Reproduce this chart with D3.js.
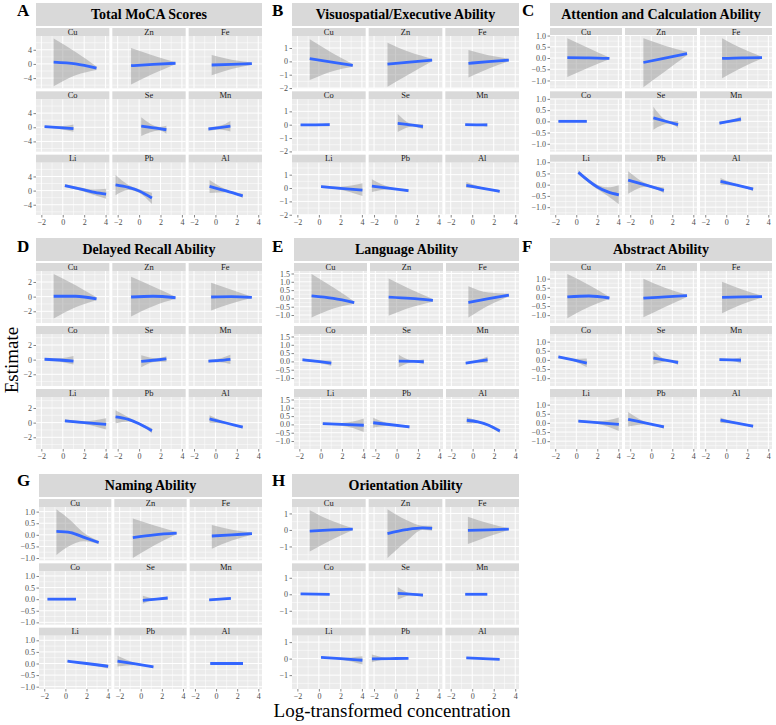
<!DOCTYPE html>
<html>
<head>
<meta charset="utf-8">
<script src="https://cdn.jsdelivr.net/npm/d3@7"></script>
<style>
body { margin: 0; background: #fff; }
svg { display: block; font-family: "Liberation Serif", "Times New Roman", serif; }
</style>
</head>
<body>
<script>
// facet order inside each panel
var elements = ["Cu", "Zn", "Fe", "Co", "Se", "Mn", "Li", "Pb", "Al"];
var outcomes = ["Total MoCA Scores", "Visuospatial/Executive Ability", "Attention and Calculation Ability",
  "Delayed Recall Ability", "Language Ability", "Abstract Ability", "Naming Ability", "Orientation Ability"];
var letters = ["A", "B", "C", "D", "E", "F", "G", "H"];

var xTicks = [-2, 0, 2, 4];
var xLimits = [-2.5, 4.35];
var yTicks = [[-4, 0, 4], [-2, -1, 0, 1], [-1, -0.5, 0, 0.5, 1], [-2, 0, 2],
  [-1, -0.5, 0, 0.5, 1, 1.5], [-1, -0.5, 0, 0.5, 1], [-1, -0.5, 0, 0.5, 1], [-1, 0, 1]];
var yLimits = [[-6.9, 7.9], [-2.02, 1.9], [-1.35, 0.98], [-3.6, 3.5],
  [-1.48, 1.65], [-1.43, 1.42], [-1.1, 1.2], [-1.84, 1.39]];

// smooth fit per element, points are [x, estimate, lower, upper]
var mocaFit = [
  [[-0.85, 0.5, -6.3, 7.2], [1.2, 0.0, -3.2, 3.4], [3.15, -1.2, -1.7, -0.7]],
  [[-0.75, -0.5, -5.8, 4.5], [1.3, -0.1, -2.8, 2.4], [3.4, 0.2, -0.1, 0.5]],
  [[-0.35, -0.3, -3.2, 2.5], [1.5, -0.1, -1.4, 1.2], [3.4, 0.1, -0.2, 0.4]],
  [[-1.7, 0.2, 0.0, 0.4], [-0.3, -0.1, -0.5, 0.3], [1.0, -0.4, -1.3, 0.8]],
  [[0.2, 0.3, -2.5, 2.8], [1.9, -0.4, -0.9, 0.1], [2.55, -0.7, -1.8, 0.4]],
  [[-0.65, -0.5, -1.0, 0.0], [0.4, -0.1, -0.6, 0.4], [1.4, 0.3, -1.2, 1.8]],
  [[0.2, 1.4, 1.0, 1.8], [2.0, 0.2, -0.3, 0.7], [3.0, -0.5, -1.3, 0.3], [4.05, -1.0, -2.3, 0.5]],
  [[-2.2, 1.6, -1.3, 4.4], [-1.0, 0.9, 0.2, 1.6], [0.0, -0.1, -0.6, 0.4], [1.2, -2.1, -3.8, -0.6]],
  [[-0.55, 1.2, -0.7, 3.0], [1.0, -0.1, -0.5, 0.3], [2.55, -1.5, -2.1, -0.9]]
];
var visuoFit = [
  [[-0.85, 0.2, -1.4, 1.65], [1.2, -0.05, -0.75, 0.65], [3.15, -0.3, -0.4, -0.2]],
  [[-0.75, -0.2, -1.9, 1.4], [1.3, -0.05, -0.95, 0.7], [3.4, 0.1, 0.0, 0.2]],
  [[-0.35, -0.15, -1.2, 0.85], [1.5, -0.02, -0.55, 0.45], [3.4, 0.1, 0.0, 0.2]],
  [[-1.7, -0.02, -0.1, 0.06], [-0.3, -0.01, -0.07, 0.05], [1.0, 0.0, -0.12, 0.12]],
  [[0.2, 0.1, -0.55, 0.8], [1.6, -0.04, -0.14, 0.06], [2.55, -0.15, -0.35, 0.05]],
  [[-0.65, 0.0, -0.08, 0.08], [0.4, -0.01, -0.06, 0.05], [1.4, -0.02, -0.15, 0.12]],
  [[0.2, 0.1, 0.0, 0.2], [2.0, -0.02, -0.13, 0.1], [4.05, -0.15, -0.6, 0.35]],
  [[-2.2, 0.15, -0.3, 0.65], [-0.5, -0.02, -0.1, 0.06], [1.2, -0.2, -0.32, -0.08]],
  [[-0.55, 0.2, 0.0, 0.45], [1.0, -0.02, -0.08, 0.04], [2.55, -0.25, -0.35, -0.15]]
];
var attnFit = [
  [[-0.85, 0.02, -0.85, 0.88], [1.2, 0.01, -0.42, 0.44], [3.15, -0.02, -0.06, 0.02]],
  [[-0.75, -0.2, -1.3, 0.88], [1.3, 0.0, -0.6, 0.55], [3.4, 0.2, 0.12, 0.28]],
  [[-0.4, -0.02, -0.9, 0.88], [1.5, 0.01, -0.42, 0.42], [3.4, 0.02, -0.02, 0.06]],
  [[-1.7, 0.0, -0.03, 0.03], [1.0, 0.0, -0.04, 0.04]],
  [[0.2, 0.15, -0.37, 0.65], [1.7, -0.04, -0.1, 0.02], [2.55, -0.15, -0.3, 0.02]],
  [[-0.65, -0.08, -0.15, 0.0], [0.4, 0.01, -0.04, 0.06], [1.4, 0.1, -0.02, 0.22]],
  [[0.2, 0.55, 0.45, 0.65], [2.0, -0.1, -0.2, 0.0], [3.0, -0.32, -0.5, -0.12], [4.05, -0.45, -0.87, -0.02]],
  [[-2.2, 0.2, -0.4, 0.6], [-0.5, -0.02, -0.09, 0.05], [1.2, -0.25, -0.37, -0.13]],
  [[-0.55, 0.15, 0.0, 0.3], [1.0, -0.02, -0.06, 0.02], [2.55, -0.2, -0.28, -0.12]]
];
var recallFit = [
  [[-0.85, 0.05, -3.0, 3.1], [1.2, 0.05, -1.45, 1.55], [3.15, -0.3, -0.5, -0.1]],
  [[-0.75, -0.05, -2.7, 2.7], [1.3, 0.05, -1.3, 1.4], [3.4, -0.15, -0.3, 0.0]],
  [[-0.4, -0.05, -1.9, 1.9], [1.5, 0.0, -0.95, 0.95], [3.4, -0.1, -0.2, 0.0]],
  [[-1.7, 0.05, -0.1, 0.2], [-0.3, -0.05, -0.3, 0.2], [1.0, -0.2, -0.65, 0.5]],
  [[0.2, -0.25, -1.05, 0.6], [1.6, -0.05, -0.3, 0.2], [2.55, 0.1, -0.3, 0.45]],
  [[-0.65, -0.2, -0.4, 0.0], [0.4, -0.1, -0.35, 0.15], [1.4, 0.05, -0.6, 0.65]],
  [[0.2, 0.25, 0.05, 0.45], [2.0, 0.0, -0.2, 0.2], [4.05, -0.25, -0.95, 0.6]],
  [[-2.2, 0.8, -0.1, 1.7], [-1.0, 0.45, 0.15, 0.75], [0.0, -0.15, -0.3, 0.0], [1.2, -1.1, -1.45, -0.75]],
  [[-0.55, 0.5, 0.0, 1.0], [1.0, -0.05, -0.15, 0.05], [2.55, -0.6, -0.8, -0.4]]
];
var langFit = [
  [[-0.85, 0.15, -1.15, 1.47], [1.2, 0.0, -0.6, 0.65], [3.15, -0.25, -0.32, -0.18]],
  [[-0.75, 0.08, -1.05, 1.2], [1.3, 0.0, -0.55, 0.55], [3.4, -0.12, -0.2, -0.04]],
  [[-0.4, -0.25, -1.15, 0.73], [1.5, -0.02, -0.42, 0.35], [3.4, 0.2, 0.12, 0.28]],
  [[-1.7, 0.1, 0.03, 0.17], [-0.3, 0.0, -0.07, 0.07], [1.0, -0.1, -0.27, 0.05]],
  [[0.2, 0.02, -0.35, 0.4], [1.6, 0.0, -0.05, 0.05], [2.55, -0.02, -0.17, 0.13]],
  [[-0.65, -0.1, -0.17, -0.03], [0.4, 0.0, -0.07, 0.07], [1.4, 0.1, -0.1, 0.3]],
  [[0.2, 0.05, -0.02, 0.12], [2.0, 0.0, -0.08, 0.08], [4.05, -0.05, -0.45, 0.35]],
  [[-2.2, 0.1, -0.2, 0.4], [-0.5, -0.02, -0.07, 0.03], [1.2, -0.15, -0.25, -0.05]],
  [[-0.55, 0.25, 0.05, 0.45], [0.5, 0.15, 0.08, 0.22], [1.5, -0.05, -0.12, 0.02], [2.55, -0.4, -0.52, -0.28]]
];
var abstractFit = [
  [[-0.85, 0.0, -1.17, 1.25], [1.2, 0.05, -0.55, 0.65], [3.15, -0.06, -0.12, 0.0]],
  [[-0.75, -0.07, -1.12, 1.0], [1.3, 0.0, -0.55, 0.5], [3.4, 0.07, 0.0, 0.12]],
  [[-0.4, -0.03, -0.9, 0.83], [1.5, 0.0, -0.4, 0.4], [3.4, 0.02, -0.03, 0.07]],
  [[-1.7, 0.17, 0.1, 0.24], [-0.3, 0.0, -0.06, 0.06], [1.0, -0.17, -0.4, 0.08]],
  [[0.2, 0.1, -0.25, 0.5], [1.6, -0.04, -0.09, 0.01], [2.55, -0.15, -0.28, 0.0]],
  [[-0.65, 0.02, -0.05, 0.09], [0.4, 0.0, -0.05, 0.05], [1.4, -0.02, -0.2, 0.15]],
  [[0.2, 0.1, 0.03, 0.17], [2.0, 0.02, -0.05, 0.09], [4.05, -0.08, -0.45, 0.3]],
  [[-2.2, 0.2, -0.2, 0.6], [-0.5, -0.01, -0.07, 0.05], [1.2, -0.22, -0.32, -0.12]],
  [[-0.55, 0.15, 0.0, 0.3], [1.0, -0.01, -0.05, 0.03], [2.55, -0.18, -0.27, -0.1]]
];
var namingFit = [
  [[-0.85, 0.15, -0.87, 1.1], [0.5, 0.1, -0.45, 0.62], [1.7, -0.1, -0.28, 0.1], [3.15, -0.33, -0.4, -0.26]],
  [[-0.75, -0.12, -1.0, 0.7], [1.3, 0.0, -0.45, 0.4], [3.4, 0.07, 0.02, 0.12]],
  [[-0.4, -0.05, -0.6, 0.42], [1.5, 0.0, -0.25, 0.22], [3.4, 0.05, 0.0, 0.1]],
  [[-1.7, 0.0, -0.03, 0.03], [1.0, 0.0, -0.04, 0.04]],
  [[0.2, -0.05, -0.2, 0.15], [1.5, 0.0, -0.03, 0.03], [2.55, 0.05, -0.03, 0.12]],
  [[-0.65, -0.03, -0.07, 0.01], [1.4, 0.03, -0.02, 0.08]],
  [[0.2, 0.1, 0.06, 0.14], [2.0, 0.0, -0.03, 0.03], [4.05, -0.12, -0.22, -0.03]],
  [[-2.2, 0.1, -0.13, 0.33], [-0.5, -0.02, -0.06, 0.02], [1.2, -0.15, -0.2, -0.1]],
  [[-0.55, 0.0, -0.03, 0.03], [2.55, 0.0, -0.03, 0.03]]
];
var orientFit = [
  [[-0.85, -0.07, -1.3, 1.2], [1.2, 0.0, -0.6, 0.55], [3.15, 0.05, 0.0, 0.1]],
  [[-0.75, -0.22, -1.7, 1.25], [1.0, 0.02, -0.7, 0.6], [2.5, 0.13, 0.0, 0.26], [3.4, 0.1, -0.05, 0.25]],
  [[-0.4, -0.03, -0.85, 0.8], [1.5, 0.01, -0.4, 0.4], [3.4, 0.05, 0.0, 0.1]],
  [[-1.7, 0.02, -0.03, 0.07], [1.0, 0.0, -0.05, 0.05]],
  [[0.2, 0.05, -0.32, 0.44], [1.6, 0.0, -0.04, 0.04], [2.55, -0.05, -0.15, 0.05]],
  [[-0.65, 0.0, -0.04, 0.04], [1.4, 0.0, -0.05, 0.05]],
  [[0.2, 0.08, 0.03, 0.13], [2.0, 0.0, -0.05, 0.05], [4.05, -0.1, -0.35, 0.15]],
  [[-2.2, -0.02, -0.22, 0.25], [-0.5, 0.0, -0.03, 0.03], [1.2, 0.02, -0.02, 0.06]],
  [[-0.55, 0.04, 0.0, 0.08], [2.55, -0.04, -0.08, 0.0]]
];

var fits = [mocaFit, visuoFit, attnFit, recallFit, langFit, abstractFit, namingFit, orientFit];

var w = 776, h = 725;
var svg = d3.select("body").append("svg").attr("width", w).attr("height", h);

// layout of the 3x3 grid of panels
var cols = [{letter: 17, right: 262}, {letter: 272, right: 519}, {letter: 522, right: 772}];
var rows = [{letter: 16, top: 28, bottom: 215}, {letter: 252, top: 263, bottom: 449}, {letter: 486, top: 499, bottom: 689}];
var plotLeft = [36, 292, 550, 36, 294, 550, 39, 292];
var gap = 3, stripH = 8;

function minorsOf(ticks, dom) {
  var step = ticks[1] - ticks[0], out = [];
  for (var v = ticks[0] - step / 2; v <= ticks[ticks.length - 1] + step; v += step) {
    if (v > dom[0] && v < dom[1]) out.push(v);
  }
  return out;
}

fits.forEach(function(fit, p) {
  var col = cols[p % 3], row = rows[Math.floor(p / 3)];
  var L = plotLeft[p], R = col.right, T = row.top, B = row.bottom;
  var fw = (R - L - 2 * gap) / 3, fh = (B - T - 2 * gap) / 3, ph = fh - stripH;

  var x = d3.scaleLinear().domain(xLimits).range([0, fw]);
  var y = d3.scaleLinear().domain(yLimits[p]).range([ph, 0]);
  var decimals = yTicks[p].some(function(t) { return t % 1 !== 0; });
  var fmt = d3.format(decimals ? ".1f" : "d");

  var g = svg.append("g");

  // letter + outcome title strip
  g.append("text").attr("x", col.letter).attr("y", row.letter)
    .attr("font-size", 17).attr("font-weight", "bold").attr("fill", "#000").text(letters[p]);
  g.append("rect").attr("x", L).attr("y", T - 25).attr("width", R - L).attr("height", 23).attr("fill", "#d9d9d9");
  g.append("text").attr("x", (L + R) / 2).attr("y", T - 9).attr("text-anchor", "middle")
    .attr("font-size", 14).attr("font-weight", "bold").attr("fill", "#000").text(outcomes[p]);

  var area = d3.area().curve(d3.curveMonotoneX)
    .x(function(d) { return x(d[0]); })
    .y0(function(d) { return y(d[2]); })
    .y1(function(d) { return y(d[3]); });
  var line = d3.line().curve(d3.curveMonotoneX)
    .x(function(d) { return x(d[0]); })
    .y(function(d) { return y(d[1]); });

  elements.forEach(function(el, i) {
    var fx = L + (i % 3) * (fw + gap);
    var fy = T + Math.floor(i / 3) * (fh + gap);
    var f = g.append("g").attr("transform", "translate(" + fx + "," + fy + ")");

    f.append("rect").attr("width", fw).attr("height", stripH).attr("fill", "#d9d9d9");
    f.append("text").attr("x", fw / 2).attr("y", stripH - 1.2).attr("text-anchor", "middle")
      .attr("font-size", 8.5).attr("fill", "#1a1a1a").text(el);

    var pan = f.append("g").attr("transform", "translate(0," + stripH + ")");
    pan.append("rect").attr("width", fw).attr("height", ph).attr("fill", "#ebebeb");

    var xMinor = minorsOf(xTicks, xLimits), yMinor = minorsOf(yTicks[p], yLimits[p]);
    pan.selectAll(".vmin").data(xMinor).enter().append("line")
      .attr("x1", x).attr("x2", x).attr("y1", 0).attr("y2", ph)
      .attr("stroke", "#fff").attr("stroke-width", 0.5);
    pan.selectAll(".hmin").data(yMinor).enter().append("line")
      .attr("y1", y).attr("y2", y).attr("x1", 0).attr("x2", fw)
      .attr("stroke", "#fff").attr("stroke-width", 0.5);
    pan.selectAll(".vmaj").data(xTicks).enter().append("line")
      .attr("x1", x).attr("x2", x).attr("y1", 0).attr("y2", ph)
      .attr("stroke", "#fff").attr("stroke-width", 1);
    pan.selectAll(".hmaj").data(yTicks[p]).enter().append("line")
      .attr("y1", y).attr("y2", y).attr("x1", 0).attr("x2", fw)
      .attr("stroke", "#fff").attr("stroke-width", 1);

    var series = fit[i];
    pan.append("path").datum(series).attr("d", area)
      .attr("fill", "#999").attr("fill-opacity", 0.5);
    pan.append("path").datum(series).attr("d", line)
      .attr("fill", "none").attr("stroke", "#3366ff").attr("stroke-width", 2.8);

    if (i % 3 === 0) {
      var ay = pan.append("g").call(d3.axisLeft(y).tickValues(yTicks[p]).tickFormat(fmt).tickSize(2.5).tickPadding(1.5));
      ay.select(".domain").remove();
      ay.selectAll("line").attr("stroke", "#333").attr("stroke-width", 0.6);
      ay.selectAll("text").attr("font-size", 8).attr("fill", "#4d4d4d");
      ay.attr("font-family", null);
    }
    if (i >= 6) {
      var ax = pan.append("g").attr("transform", "translate(0," + ph + ")")
        .call(d3.axisBottom(x).tickValues(xTicks).tickFormat(d3.format("d")).tickSize(2.5).tickPadding(2));
      ax.select(".domain").remove();
      ax.selectAll("line").attr("stroke", "#333").attr("stroke-width", 0.6);
      ax.selectAll("text").attr("font-size", 8).attr("fill", "#4d4d4d");
      ax.attr("font-family", null);
    }
  });
});

// shared axis titles
svg.append("text").attr("transform", "translate(18,360) rotate(-90)").attr("text-anchor", "middle")
  .attr("font-size", 19).attr("fill", "#000").text("Estimate");
svg.append("text").attr("x", 392).attr("y", 717).attr("text-anchor", "middle")
  .attr("font-size", 19).attr("fill", "#000").text("Log-transformed concentration");
</script>
</body>
</html>
